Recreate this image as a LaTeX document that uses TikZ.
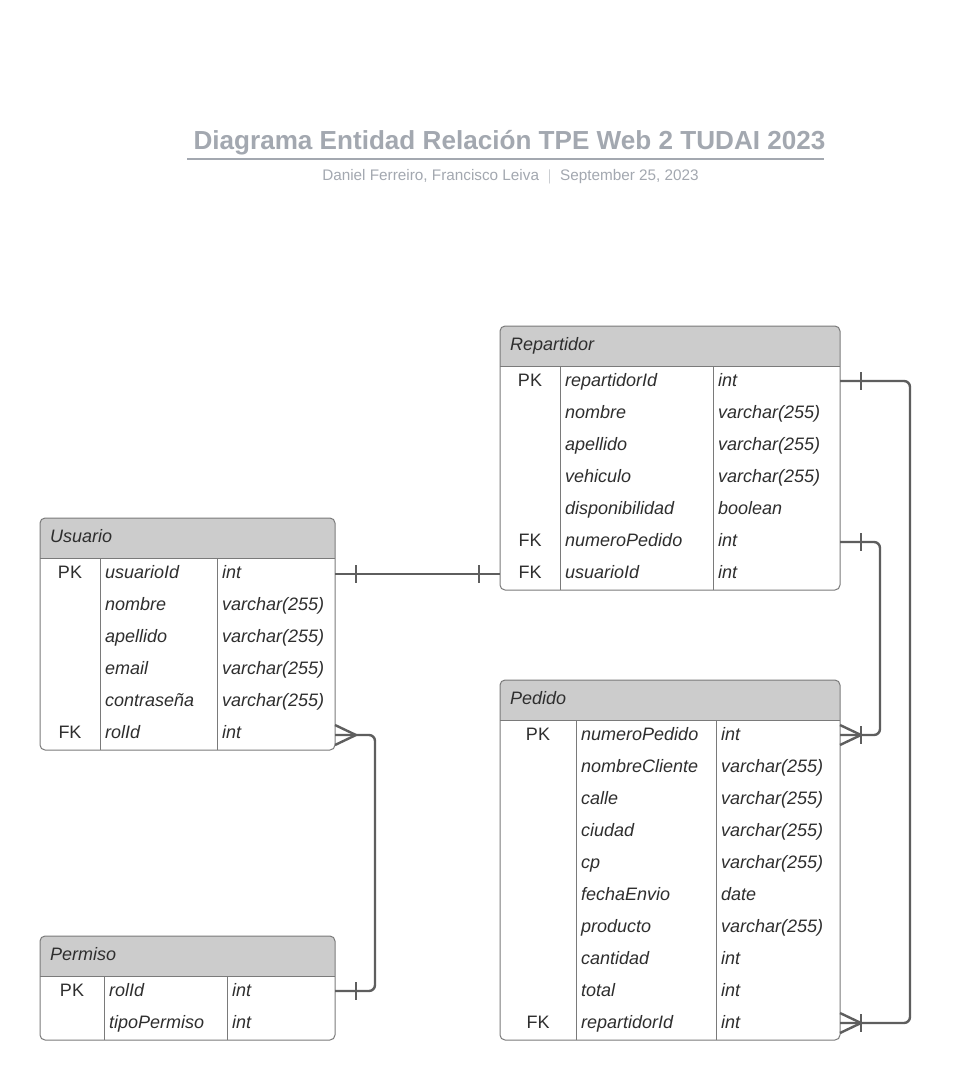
\documentclass[tikz,border=0pt]{standalone}
\usepackage{fontspec}
\setmainfont{Liberation Sans}
\usetikzlibrary{calc}
\definecolor{bordergray}{HTML}{7A7A7A}
\definecolor{hdrgray}{HTML}{CCCCCC}
\definecolor{conncol}{HTML}{5E5E5E}
\definecolor{titlecol}{HTML}{A3A8B0}
\definecolor{txtcol}{HTML}{2E2E2E}
\tikzset{
  tblborder/.style={draw=bordergray, line width=1pt, rounded corners=5pt},
  tblline/.style={draw=bordergray, line width=1pt},
  keytxt/.style={anchor=mid, font=\fontsize{18}{21}\selectfont, text=txtcol, inner sep=0pt},
  fldtxt/.style={anchor=mid west, font=\fontsize{18}{21}\selectfont\itshape, text=txtcol, inner sep=0pt},
  hdrtxt/.style={anchor=mid west, font=\fontsize{18}{21}\selectfont\itshape, text=txtcol, inner sep=0pt},
  conn/.style={draw=conncol, line width=2.4pt},
}
% table frame: #1 left, #2 top, #3 right, #4 bottom, #5 divider1, #6 divider2, #7 name
\newcommand\ertable[7]{%
  \begin{scope}
    \clip[rounded corners=5pt] (#1,#2) rectangle (#3,#4);
    \fill[hdrgray] (#1,#2) rectangle (#3,#2+40);
  \end{scope}
  \draw[tblborder] (#1,#2) rectangle (#3,#4);
  \draw[tblline] (#1,#2+40) -- (#3,#2+40);
  \draw[tblline] (#5,#2+40) -- (#5,#4);
  \draw[tblline] (#6,#2+40) -- (#6,#4);
  \node[hdrtxt] (#7-hdr) at (#1+10,#2+22) {#7};
}
% row: #1 key x-center, #2 name x, #3 type x, #4 y, #5 key, #6 name, #7 type, #8 node prefix
\newcommand\errow[8]{%
  \node[keytxt] (#8-k) at (#1,#4+2) {#5};
  \node[fldtxt] (#8-n) at (#2,#4+2) {#6};
  \node[fldtxt] (#8-t) at (#3,#4+2) {#7};
}
\begin{document}
\begin{tikzpicture}[x=1pt,y=-1pt]
\useasboundingbox (0,0) rectangle (974,1080);
\fill[white] (0,0) rectangle (974,1080);

% title
\node[font=\fontsize{26.1}{30}\selectfont\bfseries, text=titlecol, inner sep=0pt, anchor=mid] (title) at (509.5,147) {Diagrama Entidad Relación TPE Web 2 TUDAI 2023};
\draw[titlecol, line width=2pt] (187,159) -- (824,159);
\node[font=\fontsize{15.3}{18}\selectfont, text=titlecol, inner sep=0pt, anchor=mid] (subtitle) at (510.5,178) {Daniel Ferreiro, Francisco Leiva \ $|$ \ September 25, 2023};

% Repartidor
\ertable{500}{326}{840}{590}{560}{713}{Repartidor}
\errow{530}{565}{718}{382}{PK}{repartidorId}{int}{rep1}
\errow{530}{565}{718}{414}{}{nombre}{varchar(255)}{rep2}
\errow{530}{565}{718}{446}{}{apellido}{varchar(255)}{rep3}
\errow{530}{565}{718}{478}{}{vehiculo}{varchar(255)}{rep4}
\errow{530}{565}{718}{510}{}{disponibilidad}{boolean}{rep5}
\errow{530}{565}{718}{542}{FK}{numeroPedido}{int}{rep6}
\errow{530}{565}{718}{574}{FK}{usuarioId}{int}{rep7}

% Usuario
\ertable{40}{518}{335}{750}{100}{217}{Usuario}
\errow{70}{105}{222}{574}{PK}{usuarioId}{int}{usr1}
\errow{70}{105}{222}{606}{}{nombre}{varchar(255)}{usr2}
\errow{70}{105}{222}{638}{}{apellido}{varchar(255)}{usr3}
\errow{70}{105}{222}{670}{}{email}{varchar(255)}{usr4}
\errow{70}{105}{222}{702}{}{contraseña}{varchar(255)}{usr5}
\errow{70}{105}{222}{734}{FK}{rolId}{int}{usr6}

% Permiso
\ertable{40}{936}{335}{1040}{104}{227}{Permiso}
\errow{72}{109}{232}{992}{PK}{rolId}{int}{per1}
\errow{72}{109}{232}{1024}{}{tipoPermiso}{int}{per2}

% Pedido
\ertable{500}{680}{840}{1040}{576}{716}{Pedido}
\errow{538}{581}{721}{736}{PK}{numeroPedido}{int}{ped1}
\errow{538}{581}{721}{768}{}{nombreCliente}{varchar(255)}{ped2}
\errow{538}{581}{721}{800}{}{calle}{varchar(255)}{ped3}
\errow{538}{581}{721}{832}{}{ciudad}{varchar(255)}{ped4}
\errow{538}{581}{721}{864}{}{cp}{varchar(255)}{ped5}
\errow{538}{581}{721}{896}{}{fechaEnvio}{date}{ped6}
\errow{538}{581}{721}{928}{}{producto}{varchar(255)}{ped7}
\errow{538}{581}{721}{960}{}{cantidad}{int}{ped8}
\errow{538}{581}{721}{992}{}{total}{int}{ped9}
\errow{538}{581}{721}{1024}{FK}{repartidorId}{int}{ped10}

% connector end points
\coordinate (usrUid) at (335,574);
\coordinate (repUid) at (500,574);
\coordinate (usrRol) at (335,735);
\coordinate (perRol) at (335,991);
\coordinate (repRid) at (840,381);
\coordinate (pedRid) at (840,1023);
\coordinate (repNp) at (840,542);
\coordinate (pedNp) at (840,735);

% Usuario.usuarioId -- Repartidor.usuarioId
\draw[conn] (usrUid) -- (repUid);
\draw[conn] ($(usrUid)+(21,-9)$) -- ($(usrUid)+(21,9)$);
\draw[conn] ($(repUid)+(-21,-9)$) -- ($(repUid)+(-21,9)$);

% Usuario.rolId -- Permiso.rolId
\draw[conn, rounded corners=6pt] (usrRol) -- ++(40,0) |- (perRol);
\draw[conn] ($(usrRol)+(0,-10)$) -- ($(usrRol)+(21,0)$) -- ($(usrRol)+(0,10)$);
\draw[conn] ($(perRol)+(21,-9)$) -- ($(perRol)+(21,9)$);

% Repartidor.repartidorId -- Pedido.repartidorId
\draw[conn, rounded corners=6pt] (repRid) -- ++(70,0) |- (pedRid);
\draw[conn] ($(repRid)+(21,-9)$) -- ($(repRid)+(21,9)$);
\draw[conn] ($(pedRid)+(0,-10)$) -- ($(pedRid)+(21,0)$) -- ($(pedRid)+(0,10)$);
\draw[conn] ($(pedRid)+(21,-9)$) -- ($(pedRid)+(21,9)$);

% Repartidor.numeroPedido -- Pedido.numeroPedido
\draw[conn, rounded corners=6pt] (repNp) -- ++(40,0) |- (pedNp);
\draw[conn] ($(repNp)+(21,-9)$) -- ($(repNp)+(21,9)$);
\draw[conn] ($(pedNp)+(0,-10)$) -- ($(pedNp)+(21,0)$) -- ($(pedNp)+(0,10)$);
\draw[conn] ($(pedNp)+(21,-9)$) -- ($(pedNp)+(21,9)$);
\end{tikzpicture}
\end{document}
